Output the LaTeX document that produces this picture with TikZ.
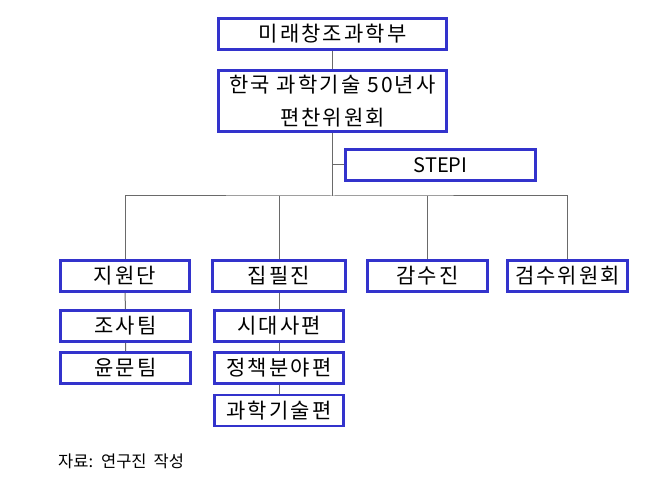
\documentclass[tikz,border=0pt]{standalone}
\usepackage{fontspec}
\setmainfont{Noto Sans CJK KR}
\newfontfamily\boxfont[LetterSpace=10]{Noto Sans CJK KR}
\usepackage{tikz}
\definecolor{boxblue}{HTML}{3333CC}
\definecolor{linegray}{HTML}{6A6A6A}

\begin{document}
\begin{tikzpicture}[x=1pt,y=-1pt,
 org/.style={draw=boxblue,line width=2.6pt,minimum height=31pt,inner sep=0pt,
   font=\boxfont\fontsize{21}{33}\selectfont,align=center},
 link/.style={draw=linegray,line width=1pt}]
 \useasboundingbox (0,0) rectangle (654,486);
 % top of the chart
 \node[org,minimum width=228pt] (mof) at (332.5,34) {미래창조과학부};
 \node[org,minimum width=228pt,minimum height=61pt] (cmte) at (332.5,101)
   {한국 과학기술 50년사\\편찬위원회};
 \node[org,minimum width=190pt,font=\fontsize{20}{24}\selectfont] (stepi) at (440.5,165) {STEPI};
 \coordinate (bus) at (332.5,196);
 % second level
 \node[org,minimum width=129pt] (jiwon) at (125,276) {지원단};
 \node[org,minimum width=133pt] (jipil) at (279,276) {집필진};
 \node[org,minimum width=120pt] (gamsu) at (427.5,276) {감수진};
 \node[org,minimum width=120pt] (geomsu) at (567.5,276) {검수위원회};
 % teams
 \node[org,minimum width=130pt] (josa) at (125.5,326) {조사팀};
 \node[org,minimum width=130pt] (yunmun) at (125.5,368) {윤문팀};
 \node[org,minimum width=129pt] (sidae) at (279,326) {시대사편};
 \node[org,minimum width=129pt] (jeongchaek) at (279,368) {정책분야편};
 \node[org,minimum width=129pt] (gwahak) at (279,410.5) {과학기술편};
 \node[anchor=west,inner sep=0pt,font=\fontsize{16.5}{18}\selectfont] (source) at (58,461)
   {자료:\hspace{8pt}연구진\hspace{7pt}작성};

 \draw[link] (mof) -- (cmte);
 \draw[link] (cmte) -- (bus);
 \draw[link] (stepi.west) -- (stepi.west -| bus);
 \draw[link] (jiwon.north) |- (bus) -| (geomsu.north);
 \draw[link] (jipil.north) -- (jipil.north |- bus);
 \draw[link] (gamsu.north) -- (gamsu.north |- bus);
 \draw[link] (jiwon) -- (josa) -- (yunmun);
 \draw[link] (jipil) -- (sidae) -- (jeongchaek) -- (gwahak);
\end{tikzpicture}
\end{document}
